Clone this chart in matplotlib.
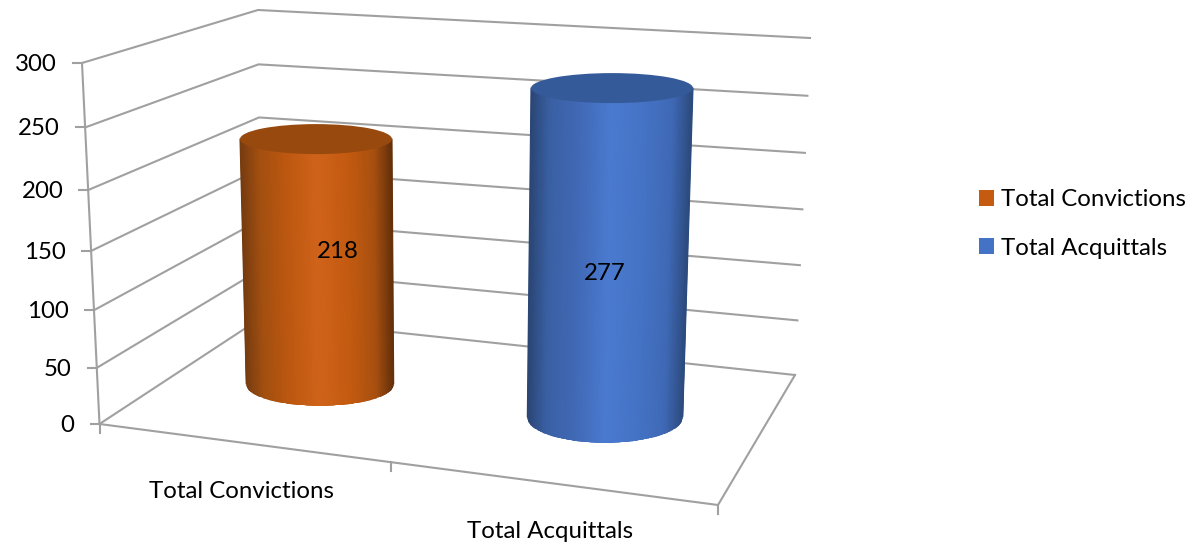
# -*- coding: utf-8 -*-
import numpy as np
import matplotlib
matplotlib.use("Agg")
import matplotlib.pyplot as plt
from matplotlib.colors import LinearSegmentedColormap
from matplotlib.patches import Ellipse, Patch, PathPatch
from matplotlib.path import Path

# Donnees
categories = ["Total Convictions", "Total Acquittals"]
values = [218, 277]
y_ticks = [0, 50, 100, 150, 200, 250, 300]
y_max = 300

plt.rcParams["font.family"] = ["Lato", "DejaVu Sans"]
FS = 17.3
GRID = "#a0a0a0"
LW = 1.5

# Coins du decor 3D (pixels de l'image)
front_top = (82, 63)
back_top = (258, 10)
right_top = (810, 38)
front_bot = (99.5, 424)
back_bot = (261, 318)
right_bot = (795, 375)
near_bot = (718, 505)

# Cylindres : base (cx, cy, a, b), sommet (cx, a, b), pixels par unite
bars = [
    dict(base=(320, 385, 73.7, 21), top=(316, 76, 15), scale=1.128,
         face=["#763c10", "#a24f10", "#bd5810", "#d0631a", "#c25a10", "#a85010", "#64300a"],
         cap="#97490e", leg="#C55A11", lab=(338, 251)),
    dict(base=(605, 418, 77.7, 25), top=(612, 81, 15), scale=1.191,
         face=["#2b4675", "#3a60a4", "#4169b5", "#4a7ad0", "#4472c4", "#3f69b5", "#2c4a7c"],
         cap="#355a99", leg="#4472C4", lab=(605, 273)),
]
stops = [0, 0.12, 0.3, 0.5, 0.72, 0.88, 1]


def homography(p00, p10, p11, p01):
    src = [(0, 0), (1, 0), (1, 1), (0, 1)]
    dst = [p00, p10, p11, p01]
    A, b = [], []
    for (u, v), (x, y) in zip(src, dst):
        A.append([u, v, 1, 0, 0, 0, -u * x, -v * x])
        A.append([0, 0, 0, u, v, 1, -u * y, -v * y])
        b += [x, y]
    h = np.linalg.solve(np.array(A, float), np.array(b, float))
    return np.append(h, 1).reshape(3, 3)


def warp(H, u, v):
    x, y, w = H @ np.array([u, v, 1.0])
    return x / w, y / w


left_wall = homography(front_bot, back_bot, back_top, front_top)
back_wall = homography(back_bot, right_bot, right_top, back_top)
floor = homography(front_bot, near_bot, right_bot, back_bot)

fig = plt.figure(figsize=(11.93, 5.45), dpi=100)
ax = fig.add_axes([0, 0, 1, 1])
ax.set_xlim(0, 1193)
ax.set_ylim(545, 0)
ax.axis("off")

# Grille et axe vertical
for t in y_ticks:
    v = t / y_max
    p0 = warp(left_wall, 0, v)
    p1 = warp(left_wall, 1, v)
    p2 = warp(back_wall, 1, v)
    ax.plot([p0[0], p1[0], p2[0]], [p0[1], p1[1], p2[1]], color=GRID, lw=LW, zorder=1)
    ax.plot([p0[0] - 9, p0[0]], [p0[1], p0[1]], color=GRID, lw=LW, zorder=1)
    ax.text(p0[0] - 25, p0[1] + 1.5, str(t), ha="right", va="center", fontsize=FS, color="black")

ax.plot([front_top[0], front_bot[0]], [front_top[1], front_bot[1]], color=GRID, lw=LW, zorder=1)
ax.plot([front_bot[0], near_bot[0], right_bot[0]], [front_bot[1], near_bot[1], right_bot[1]],
        color=GRID, lw=LW, zorder=1)

# Graduations des categories
for u in [0, 0.5, 1]:
    x, y = warp(floor, u, 0)
    ax.plot([x, x], [y, y + 9], color=GRID, lw=LW, zorder=1)
for i, name in enumerate(categories):
    x, y = warp(floor, 0.25 + 0.5 * i, 0)
    ax.text(x, y + 49, name, ha="center", va="center", fontsize=FS, color="black")


# Cylindres
def draw_cylinder(val, b):
    bx, by, ba, bb = b["base"]
    tx, ta, tb = b["top"]
    ty = by - val * b["scale"]
    theta = np.linspace(np.pi, 0, 80)
    arc_x = bx + ba * np.cos(theta)
    arc_y = by + bb * np.sin(theta)
    verts = [(tx - ta, ty)] + list(zip(arc_x, arc_y)) + [(tx + ta, ty), (tx - ta, ty)]
    body = PathPatch(Path(verts), facecolor="none", edgecolor="none", zorder=3)
    ax.add_patch(body)

    cmap = LinearSegmentedColormap.from_list("face", list(zip(stops, b["face"])))
    s = np.linspace(0, 1, 60)
    X = np.vstack([tx - ta + 2 * ta * s, bx - ba + 2 * ba * s])
    Y = np.vstack([np.full(60, ty), np.full(60, by + bb)])
    C = np.vstack([s, s])
    mesh = ax.pcolormesh(X, Y, C, cmap=cmap, shading="gouraud", zorder=3, vmin=0, vmax=1)
    mesh.set_clip_path(body)

    # lisse les bords du clip (pas d'antialias sur le clip)
    ax.plot([tx - ta, bx - ba], [ty, by], color=b["face"][0], lw=0.8, zorder=3.5)
    ax.plot([tx + ta, bx + ba], [ty, by], color=b["face"][-1], lw=0.8, zorder=3.5)
    edge_x = bx + (ba + 0.8) * np.cos(theta)
    edge_y = by + (bb + 0.8) * np.sin(theta)
    ax.plot(edge_x, edge_y, color="white", lw=1.0, zorder=3.5)

    ax.add_patch(Ellipse((tx, ty), 2 * ta, 2 * tb, facecolor=b["cap"], edgecolor="none", zorder=4))


for val, b in zip(values, bars):
    draw_cylinder(val, b)
    ax.text(b["lab"][0], b["lab"][1] + 0.5, str(val), ha="center", va="center", fontsize=FS,
            color="black", zorder=5)

# Legende
handles = [Patch(facecolor=b["leg"], edgecolor="none", label=c) for b, c in zip(bars, categories)]
ax.legend(handles=handles, loc="center left", bbox_to_anchor=(972, 224),
          bbox_transform=ax.transData, frameon=False, fontsize=FS, handlelength=0.625,
          handleheight=0.625, handletextpad=0.29, labelspacing=1.125, borderpad=0.3,
          borderaxespad=0)

fig.savefig("out.png", dpi=100)
